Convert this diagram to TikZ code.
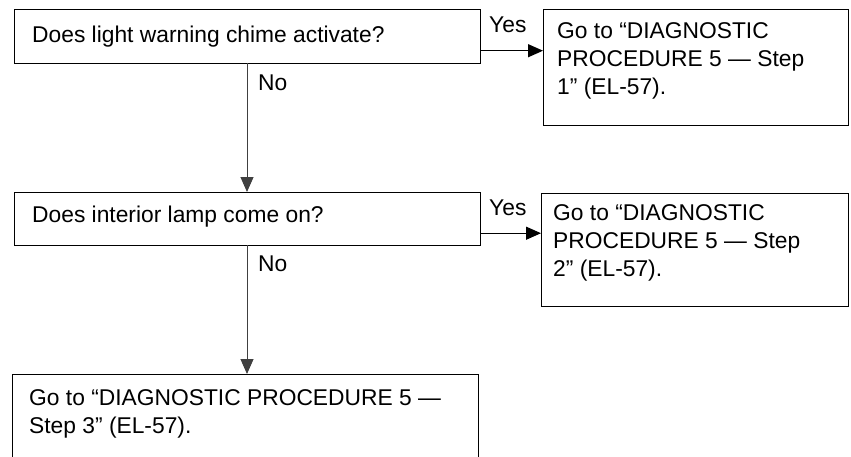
\documentclass[tikz,border=0pt]{standalone}
\usepackage{fontspec}
\setmainfont{Liberation Sans}
\usetikzlibrary{arrows.meta}
\begin{document}
\begin{tikzpicture}[x=1pt,y=-1pt,
  box/.style={draw, line width=1.4pt, inner sep=0pt, anchor=north west},
  txt/.style={inner sep=0pt, anchor=base west, align=left,
              font=\fontsize{22.8}{28}\selectfont},
  flow/.style={line width=1.2pt, -{Triangle[length=15pt,width=13pt]}},
  drop/.style={line width=1pt, black!75, -{Triangle[length=15pt,width=13pt]}}]
\useasboundingbox (0,0) rectangle (851,456);
\clip (0,0) rectangle (851,456);

% question boxes and result boxes
\node[box, minimum width=466pt, minimum height=54pt] (A) at (14,9) {};
\node[box, minimum width=305pt, minimum height=116pt] (B) at (543,9) {};
\node[box, minimum width=466pt, minimum height=53pt] (C) at (14,192) {};
\node[box, minimum width=307pt, minimum height=113pt] (D) at (541,193) {};
\node[box, minimum width=466pt, minimum height=100pt] (E) at (12,374) {};

% box texts (anchored at the baseline of the last line)
\node[txt] (At) at (32,42) {Does light warning chime activate?};
\node[txt] (Bt) at (557,94) {Go to “DIAGNOSTIC\\PROCEDURE 5 — Step\\1” (EL-57).};
\node[txt] (Ct) at (32,222) {Does interior lamp come on?};
\node[txt] (Dt) at (553,276) {Go to “DIAGNOSTIC\\PROCEDURE 5 — Step\\2” (EL-57).};
\node[txt] (Et) at (29,433) {Go to “DIAGNOSTIC PROCEDURE 5 —\\Step 3” (EL-57).};

% branch labels
\node[txt] (y1) at (489,32) {Yes};
\node[txt] (n1) at (258,90) {No};
\node[txt] (y2) at (489,215) {Yes};
\node[txt] (n2) at (258,271) {No};

% connectors
\coordinate (a1) at ([yshift=-14pt]A.east);
\coordinate (c1) at ([yshift=-14pt]C.east);
\draw[flow] (a1) -- (a1 -| B.west);
\draw[flow] (c1) -- (c1 -| D.west);
\coordinate (av) at (247,63);
\coordinate (cv) at (247,245);
\draw[drop] (av) -- (av |- C.north);
\draw[drop] (cv) -- (cv |- E.north);
\end{tikzpicture}
\end{document}
